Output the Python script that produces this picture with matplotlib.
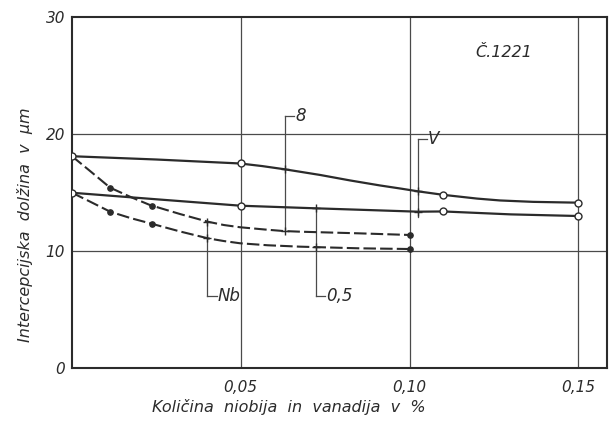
import matplotlib
matplotlib.use("Agg")
import matplotlib.pyplot as plt

# ---- data ----
# V (solid), series "8"
v8_line_x = [0, 0.025, 0.0498, 0.0563, 0.0631, 0.0735, 0.0824, 0.0913, 0.0975,
             0.1025, 0.11, 0.12, 0.1268, 0.1366, 0.15]
v8_line_y = [18.1, 17.82, 17.48, 17.26, 16.98, 16.5, 16.03, 15.6, 15.33,
             15.1, 14.8, 14.48, 14.32, 14.2, 14.13]
v8_pts_x = [0, 0.05, 0.11, 0.15]
v8_pts_y = [18.1, 17.48, 14.8, 14.13]

# V (solid), series "0,5"
v05_line_x = [0, 0.025, 0.05, 0.072, 0.09, 0.1025, 0.11, 0.13, 0.15]
v05_line_y = [14.98, 14.42, 13.87, 13.65, 13.48, 13.36, 13.38, 13.13, 12.99]
v05_pts_x = [0, 0.05, 0.11, 0.15]
v05_pts_y = [14.98, 13.87, 13.42, 12.99]

# Nb (dashed), series "8"
nb8_line_x = [0, 0.005, 0.0113, 0.0175, 0.0231, 0.032, 0.0403, 0.045, 0.0498,
              0.057, 0.0625, 0.0676, 0.085, 0.10]
nb8_line_y = [18.1, 16.92, 15.41, 14.6, 13.93, 13.16, 12.5, 12.22, 12.03,
              11.84, 11.71, 11.65, 11.51, 11.37]
nb8_pts_x = [0.0113, 0.0236, 0.10]
nb8_pts_y = [15.41, 13.88, 11.37]

# Nb (dashed), series "0,5"
nb05_line_x = [0, 0.005, 0.0113, 0.0175, 0.0231, 0.032, 0.0403, 0.045, 0.0498,
               0.058, 0.0676, 0.085, 0.10]
nb05_line_y = [14.98, 14.27, 13.36, 12.8, 12.37, 11.67, 11.08, 10.85, 10.66,
               10.49, 10.37, 10.23, 10.17]
nb05_pts_x = [0.0113, 0.0236, 0.10]
nb05_pts_y = [13.36, 12.33, 10.17]

x_ticks = [0.05, 0.10, 0.15]
x_tick_labels = ["0,05", "0,10", "0,15"]
y_ticks = [0, 10, 20, 30]
y_tick_labels = ["0", "10", "20", "30"]

# callouts: (label, vertical x, y top, y bottom, intersection ys, label side)
callouts = [
    ("8", 0.0631, 21.54, 11.71, [16.98, 11.71], "top"),
    ("V", 0.1025, 19.57, 12.9, [15.1, 13.36], "top"),
    ("Nb", 0.0401, 12.6, 6.15, [12.5, 11.08], "bottom"),
    ("0,5", 0.0723, 13.76, 6.15, [13.65, 10.37], "bottom"),
]

# ---- figure ----
plt.rcParams['font.family'] = ['DejaVu Sans']
fig = plt.figure(figsize=(6.13, 4.21), dpi=100)
ax = fig.add_axes([72 / 613, 1 - 368 / 421, (607 - 72) / 613, (368 - 17) / 421])

ink = "#2b2b2b"
grid_c = "#4a4a4a"

ax.set_xlim(0, 0.1585)
ax.set_ylim(0, 30)

for gx in x_ticks:
    ax.axvline(gx, color=grid_c, lw=0.9, zorder=1)
for gy in [10, 20]:
    ax.axhline(gy, color=grid_c, lw=0.9, zorder=1)

ax.plot(v8_line_x, v8_line_y, color=ink, lw=1.6, zorder=3, solid_joinstyle='round')
ax.plot(v05_line_x, v05_line_y, color=ink, lw=1.6, zorder=3, solid_joinstyle='round')
ax.plot(nb8_line_x, nb8_line_y, color=ink, lw=1.5, dashes=(6, 2), zorder=3)
ax.plot(nb05_line_x, nb05_line_y, color=ink, lw=1.5, dashes=(6, 2), zorder=3)

ax.plot(v8_pts_x, v8_pts_y, 'o', ms=5, mfc='white', mec=ink, mew=1.0, zorder=5)
ax.plot(v05_pts_x, v05_pts_y, 'o', ms=5, mfc='white', mec=ink, mew=1.0, zorder=5)
ax.plot(nb8_pts_x, nb8_pts_y, 'o', ms=3.8, mfc=ink, mec=ink, zorder=5)
ax.plot(nb05_pts_x, nb05_pts_y, 'o', ms=3.8, mfc=ink, mec=ink, zorder=5)

for lab, vx, ytop, ybot, ints, side in callouts:
    ax.plot([vx, vx], [ybot, ytop], color=grid_c, lw=0.9, zorder=2)
    ax.plot([vx] * len(ints), ints, '+', ms=6, mew=1.0, color=ink, zorder=4)
    ly = ytop if side == "top" else ybot
    ax.plot([vx, vx + 0.0028], [ly, ly], color=grid_c, lw=0.9, zorder=2)
    ax.text(vx + 0.003, ly, lab, ha='left', va='center', fontsize=12,
            style='italic', color=ink)

ax.text(0.128, 27.0, "Č.1221", ha='center', va='center', fontsize=11.5,
        style='italic', color=ink)

ax.set_xticks(x_ticks)
ax.set_xticklabels(x_tick_labels, fontsize=11, style='italic', color=ink)
ax.set_yticks(y_ticks)
ax.set_yticklabels(y_tick_labels, fontsize=11, style='italic', color=ink)
ax.tick_params(length=0, pad=5)
ax.tick_params(axis='x', pad=9)

for s in ax.spines.values():
    s.set_linewidth(1.5)
    s.set_color(ink)

fig.text(152 / 613, 1 - 407 / 421, "Količina  niobija  in  vanadija  v  %",
         ha='left', va='center', fontsize=11.5, style='italic', color=ink)
fig.text(25 / 613, 1 - 225 / 421, "Intercepcijska  dolžina  v  μm",
         ha='center', va='center', rotation=90, fontsize=11.5, style='italic', color=ink)

fig.savefig("out.png", dpi=100)
